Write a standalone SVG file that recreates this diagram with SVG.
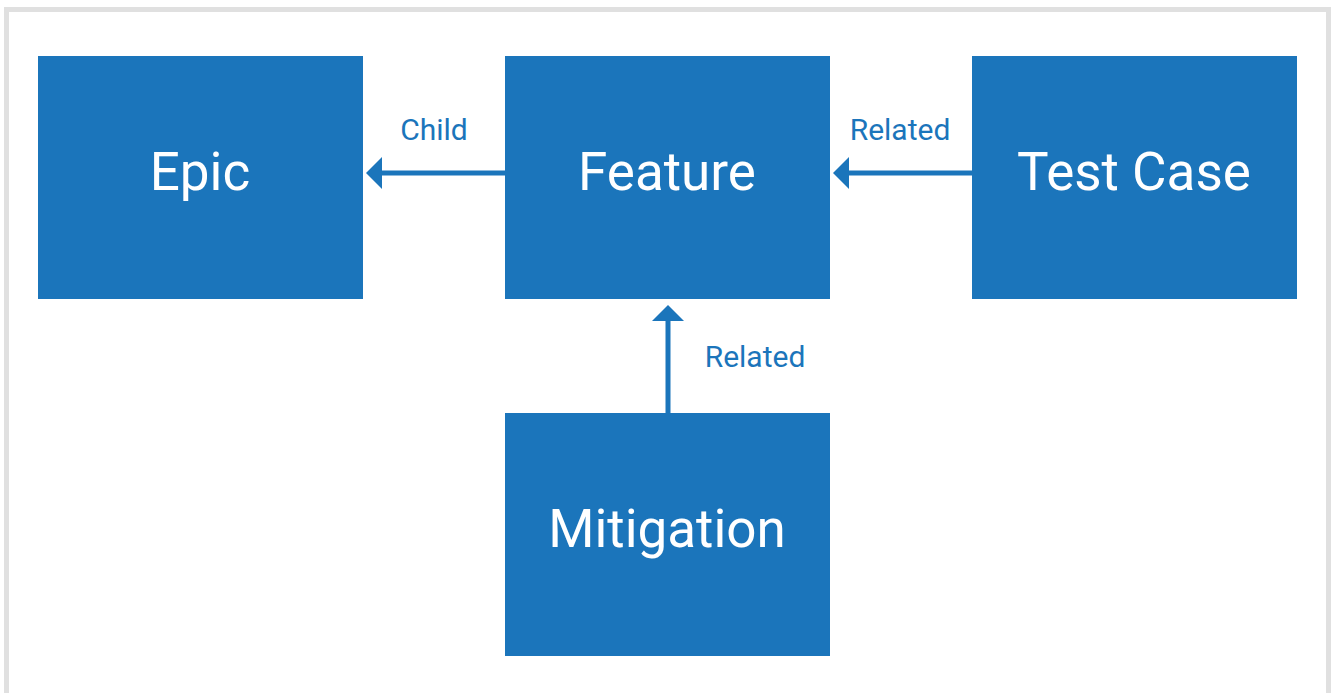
<svg xmlns="http://www.w3.org/2000/svg" width="1332" height="693" viewBox="0 0 1332 693">
<style>
.node{fill:#1b75bb}
.nl{fill:#ffffff;font-family:Roboto,"Liberation Sans",sans-serif;font-size:53px;text-anchor:middle}
.el{fill:#1b75bb;font-family:Roboto,"Liberation Sans",sans-serif;font-size:30px}
.conn{stroke:#1b75bb;stroke-width:5;fill:none}
.head{fill:#1b75bb}
</style>
<rect x="6.5" y="9.5" width="1322" height="700" fill="#ffffff" stroke="#e0e0e0" stroke-width="5"/>
<g id="epic"><rect class="node" x="38" y="56" width="325" height="243"/><text class="nl" x="200" y="190">Epic</text></g>
<g id="feature"><rect class="node" x="505" y="56" width="325" height="243"/><text class="nl" x="667" y="190">Feature</text></g>
<g id="testcase"><rect class="node" x="972" y="56" width="325" height="243"/><text class="nl" x="1134" y="190">Test Case</text></g>
<g id="mitigation"><rect class="node" x="505" y="413" width="325" height="243"/><text class="nl" x="667" y="547">Mitigation</text></g>
<g id="connectors">
<line class="conn" x1="505" y1="173" x2="380" y2="173"/>
<polygon class="head" points="366,173 382,157 382,189"/>
<text class="el" x="434" y="140" text-anchor="middle">Child</text>
<line class="conn" x1="972" y1="173" x2="846" y2="173"/>
<polygon class="head" points="833,173 849,157 849,189"/>
<text class="el" x="900" y="140" text-anchor="middle">Related</text>
<line class="conn" x1="668" y1="413" x2="668" y2="319"/>
<polygon class="head" points="668,305 652,321 684,321"/>
<text class="el" x="755" y="367" text-anchor="middle">Related</text>
</g>
</svg>
